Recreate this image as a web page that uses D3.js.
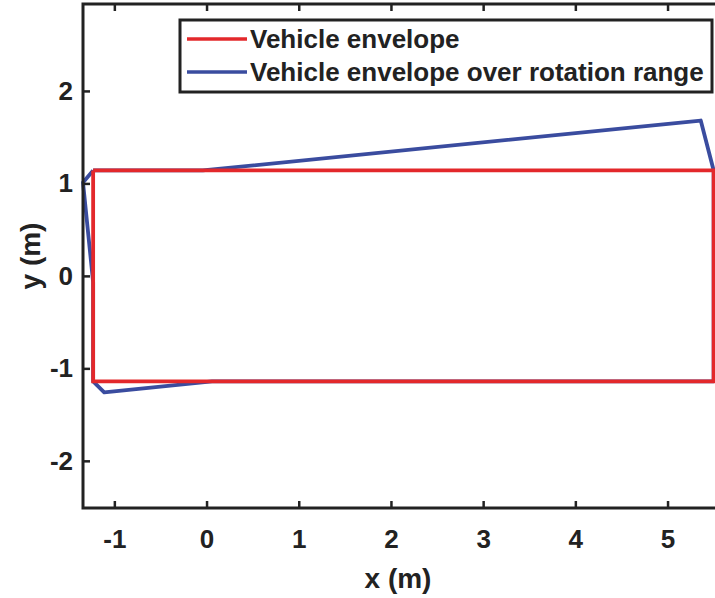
<!DOCTYPE html>
<html>
<head>
<meta charset="utf-8">
<script src="https://cdn.jsdelivr.net/npm/d3@7"></script>
<style>
  html, body { margin: 0; padding: 0; background: #fff; }
  svg { display: block; }
  text { font-family: "Liberation Sans", Arial, Helvetica, sans-serif; font-weight: bold; fill: #222; }
</style>
</head>
<body>
<script>
// ---- data ----
const redX  = [-1.23, 5.5, 5.5, -1.23, -1.23];
const redY  = [1.14, 1.14, -1.14, -1.14, 1.14];
const blueX = [-1.23, -1.34, -1.23, -1.23, -1.11, 0.06, 5.5, 5.5, 5.36, -0.04, -1.23];
const blueY = [1.14, 1.01, -0.07, -1.14, -1.26, -1.14, -1.14, 1.14, 1.68, 1.14, 1.14];
const xTicks = [-1, 0, 1, 2, 3, 4, 5];
const yTicks = [-2, -1, 0, 1, 2];
const seriesNames = ["Vehicle envelope", "Vehicle envelope over rotation range"];
const seriesColors = ["#e3282b", "#3a4c9f"];

const W = 715, H = 598;
const svg = d3.select("body").append("svg").attr("width", W).attr("height", H);

const x = d3.scaleLinear().domain([-1.34, 5.58]).range([83, 83 + 6.92 * 92.2]);
const y = d3.scaleLinear().domain([-2.51, 2.94]).range([508, 4]);

const line = d3.line().x(d => x(d[0])).y(d => y(d[1]));
const fmt = d => String(d);

// blue first, red on top
svg.append("path")
  .attr("d", line(blueX.map((v, i) => [v, blueY[i]])))
  .attr("fill", "none").attr("stroke", seriesColors[1]).attr("stroke-width", 3.8)
  .attr("stroke-linejoin", "round");
svg.append("path")
  .attr("d", line(redX.map((v, i) => [v, redY[i]])))
  .attr("fill", "none").attr("stroke", seriesColors[0]).attr("stroke-width", 3.8)
  .attr("stroke-linejoin", "miter");

// axes frame
const x0 = x.range()[0], x1 = x.range()[1], yB = y.range()[0], yT = y.range()[1];
svg.append("rect").attr("x", x0).attr("y", yT).attr("width", x1 - x0).attr("height", yB - yT)
  .attr("fill", "none").attr("stroke", "#222").attr("stroke-width", 3);

const tl = 7;
// x ticks bottom & top (inward)
const gxb = svg.append("g").attr("transform", `translate(0,${yB})`)
  .call(d3.axisBottom(x).tickValues(xTicks).tickSize(-tl).tickFormat(fmt));
gxb.select(".domain").remove();
gxb.selectAll(".tick line").attr("stroke", "#222").attr("stroke-width", 2.5);
gxb.selectAll(".tick text").attr("font-size", 26).attr("fill", "#222").attr("dy", null).attr("y", 40)
  .attr("font-family", "Liberation Sans, Arial, sans-serif").attr("font-weight", "bold");

const gxt = svg.append("g").attr("transform", `translate(0,${yT})`)
  .call(d3.axisTop(x).tickValues(xTicks).tickSize(-tl).tickFormat(""));
gxt.select(".domain").remove();
gxt.selectAll(".tick line").attr("stroke", "#222").attr("stroke-width", 2.5);

// y ticks left (inward)
const gyl = svg.append("g").attr("transform", `translate(${x0},0)`)
  .call(d3.axisLeft(y).tickValues(yTicks).tickSize(-tl).tickPadding(10).tickFormat(fmt));
gyl.select(".domain").remove();
gyl.selectAll(".tick line").attr("stroke", "#222").attr("stroke-width", 2.5);
gyl.selectAll(".tick text").attr("font-size", 26).attr("fill", "#222")
  .attr("font-family", "Liberation Sans, Arial, sans-serif").attr("font-weight", "bold");

// axis labels
svg.append("text").attr("x", 398).attr("y", 588).attr("text-anchor", "middle")
  .attr("font-size", 28).text("x (m)");
svg.append("text").attr("transform", "translate(40,256) rotate(-90)").attr("text-anchor", "middle")
  .attr("font-size", 28).text("y (m)");

// legend
const lg = svg.append("g");
lg.append("rect").attr("x", 180).attr("y", 20).attr("width", 532).attr("height", 72)
  .attr("fill", "#fff").attr("stroke", "#222").attr("stroke-width", 3);
const rowsY = [39, 72];
seriesNames.forEach((name, i) => {
  lg.append("line").attr("x1", 187).attr("x2", 247).attr("y1", rowsY[i]).attr("y2", rowsY[i])
    .attr("stroke", seriesColors[i]).attr("stroke-width", 3.5);
  lg.append("text").attr("x", 250).attr("y", rowsY[i] + 9).attr("font-size", 26).text(name);
});
</script>
</body>
</html>
